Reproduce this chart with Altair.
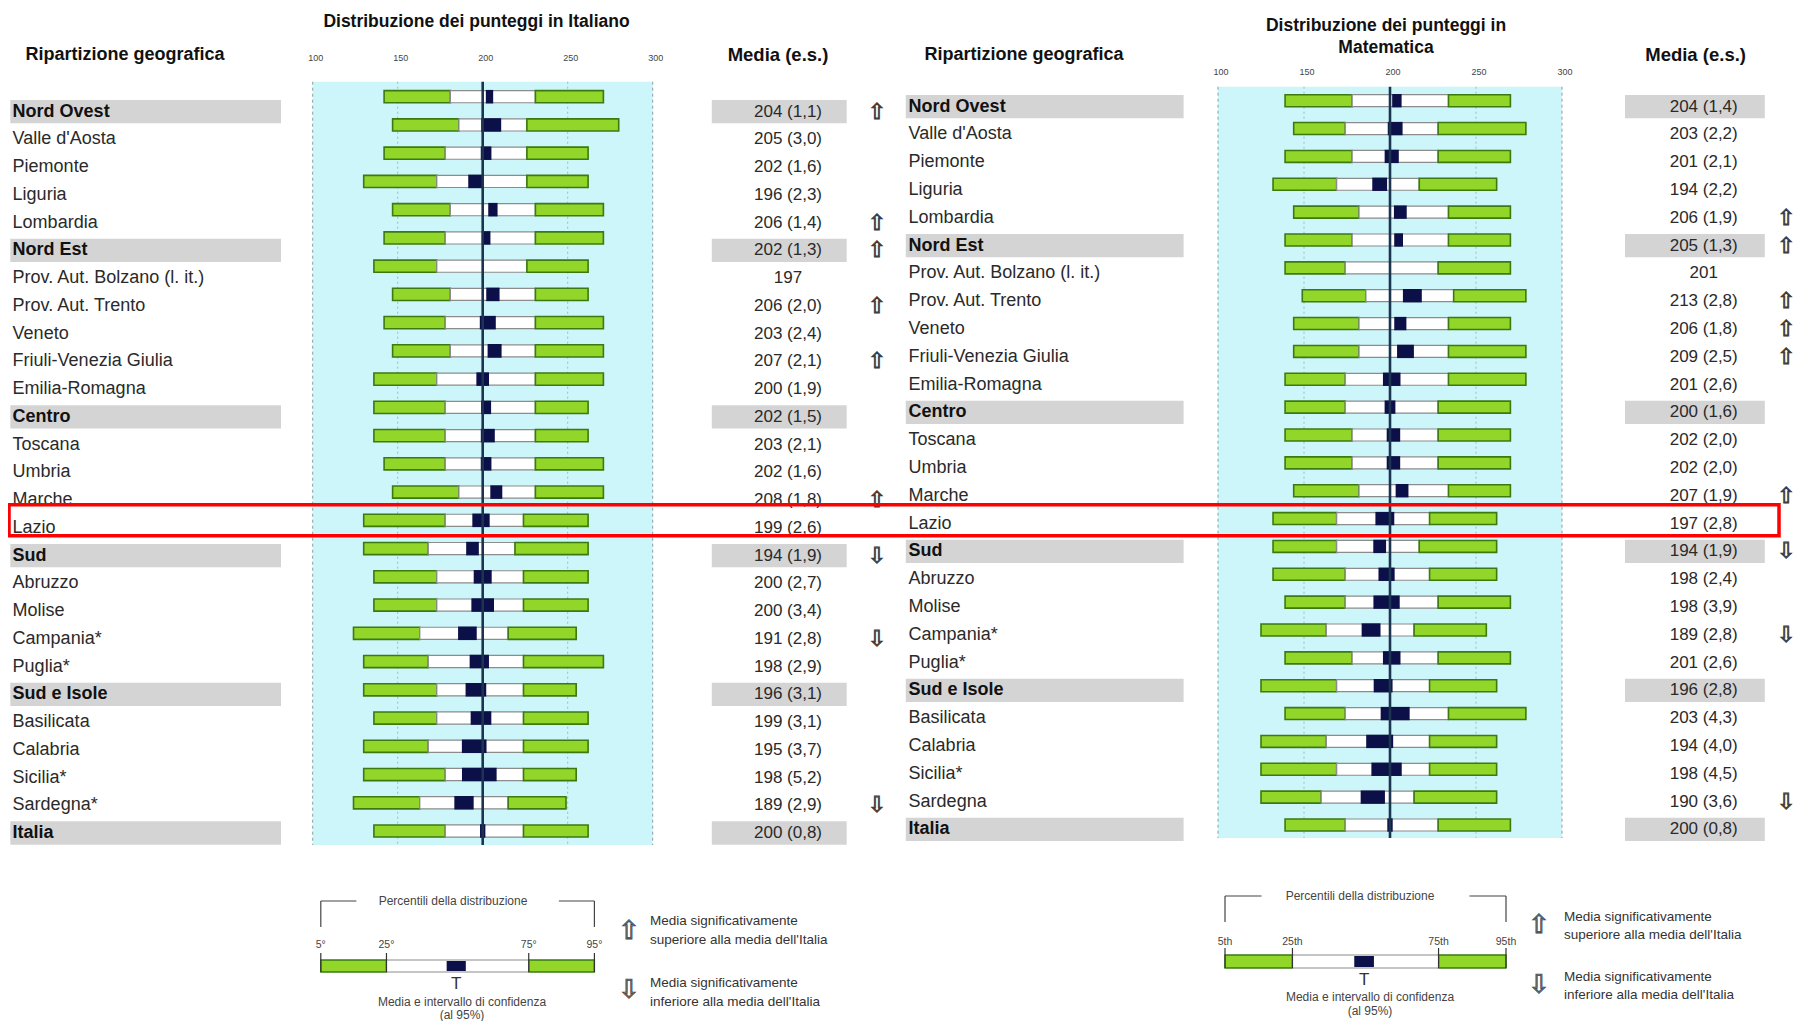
import altair as alt
import pandas as pd

# ---------------- data ----------------
REGIONS_IT = ["Nord Ovest", "Valle d'Aosta", "Piemonte", "Liguria", "Lombardia", "Nord Est",
              "Prov. Aut. Bolzano (l. it.)", "Prov. Aut. Trento", "Veneto", "Friuli-Venezia Giulia",
              "Emilia-Romagna", "Centro", "Toscana", "Umbria", "Marche", "Lazio", "Sud", "Abruzzo",
              "Molise", "Campania*", "Puglia*", "Sud e Isole", "Basilicata", "Calabria", "Sicilia*",
              "Sardegna*", "Italia"]
REGIONS_MA = ["Nord Ovest", "Valle d'Aosta", "Piemonte", "Liguria", "Lombardia", "Nord Est",
              "Prov. Aut. Bolzano (l. it.)", "Prov. Aut. Trento", "Veneto", "Friuli-Venezia Giulia",
              "Emilia-Romagna", "Centro", "Toscana", "Umbria", "Marche", "Lazio", "Sud", "Abruzzo",
              "Molise", "Campania*", "Puglia*", "Sud e Isole", "Basilicata", "Calabria", "Sicilia*",
              "Sardegna", "Italia"]
AGGREGATE = [1, 0, 0, 0, 0, 1, 0, 0, 0, 0, 0, 1, 0, 0, 0, 0, 1, 0, 0, 0, 0, 1, 0, 0, 0, 0, 1]

IT_P5 = [142, 147, 142, 130, 147, 142, 136, 147, 142, 147, 136, 136, 136, 142, 147, 130, 130, 136, 136, 124, 130, 130, 136, 130, 130, 124, 136]
IT_P25 = [181, 186, 178, 173, 181, 178, 173, 181, 178, 181, 173, 178, 178, 178, 186, 178, 168, 173, 173, 163, 168, 173, 173, 168, 178, 163, 178]
IT_P75 = [231, 226, 226, 226, 231, 231, 226, 231, 231, 231, 231, 231, 231, 231, 231, 224, 219, 224, 224, 215, 224, 224, 224, 224, 224, 215, 224]
IT_P95 = [271, 280, 262, 262, 271, 271, 262, 262, 271, 271, 271, 262, 262, 271, 271, 262, 262, 262, 262, 255, 271, 255, 262, 262, 255, 249, 262]
IT_MEAN = [204, 205, 202, 196, 206, 202, 197, 206, 203, 207, 200, 202, 203, 202, 208, 199, 194, 200, 200, 191, 198, 196, 199, 195, 198, 189, 200]
IT_SE = [1.1, 3.0, 1.6, 2.3, 1.4, 1.3, None, 2.0, 2.4, 2.1, 1.9, 1.5, 2.1, 1.6, 1.8, 2.6, 1.9, 2.7, 3.4, 2.8, 2.9, 3.1, 3.1, 3.7, 5.2, 2.9, 0.8]
IT_SIG = ["up", "", "", "", "up", "up", "", "up", "", "up", "", "", "", "", "up", "", "down", "", "", "down", "", "", "", "", "", "down", ""]

MA_P5 = [139, 144, 139, 132, 144, 139, 139, 149, 144, 144, 139, 139, 139, 139, 144, 132, 132, 132, 139, 125, 139, 125, 139, 125, 125, 125, 139]
MA_P25 = [178, 174, 178, 169, 182, 178, 174, 186, 182, 182, 174, 174, 178, 178, 182, 169, 169, 174, 174, 163, 178, 169, 174, 163, 169, 160, 174]
MA_P75 = [234, 228, 228, 217, 234, 234, 228, 237, 234, 234, 234, 228, 228, 228, 234, 223, 217, 223, 228, 214, 228, 223, 234, 223, 223, 214, 228]
MA_P95 = [270, 279, 270, 262, 270, 270, 270, 279, 270, 279, 279, 270, 270, 270, 270, 262, 262, 262, 270, 256, 270, 262, 279, 262, 262, 262, 270]
MA_MEAN = [204, 203, 201, 194, 206, 205, 201, 213, 206, 209, 201, 200, 202, 202, 207, 197, 194, 198, 198, 189, 201, 196, 203, 194, 198, 190, 200]
MA_SE = [1.4, 2.2, 2.1, 2.2, 1.9, 1.3, None, 2.8, 1.8, 2.5, 2.6, 1.6, 2.0, 2.0, 1.9, 2.8, 1.9, 2.4, 3.9, 2.8, 2.6, 2.8, 4.3, 4.0, 4.5, 3.6, 0.8]
MA_SIG = ["", "", "", "", "up", "up", "", "up", "up", "up", "", "", "", "", "up", "", "down", "", "", "down", "", "", "", "", "", "down", ""]

AXIS_TICKS = [100, 150, 200, 250, 300]
HIGHLIGHT = "Lazio"

LEG_POS = [0, 24, 76, 100]
LEG_CI = [46, 53]
LEG_MEAN = 49.5
LEG_PCT_IT = ["5°", "25°", "75°", "95°"]
LEG_PCT_MA = ["5th", "25th", "75th", "95th"]

# ---------------- style ----------------
FONT = "Liberation Sans"
CYAN = "#cdf6fb"
GREEN = "#92d62a"
DKGREEN = "#3a7a10"
NAVY = "#0c1048"
MEANLINE = "#1b3550"
GREYBAND = "#d4d4d4"
TXT = "#2a2a2a"

N = len(REGIONS_IT)


def make_df(labels, p5, p25, p75, p95, mean, se, sig):
    media = [str(m) if s is None else f"{m} ({s:.1f})".replace(".", ",") for m, s in zip(mean, se)]
    arrows = {"up": "⇧", "down": "⇩", "": ""}
    return pd.DataFrame({
        "row": list(range(len(labels))), "label": labels, "agg": AGGREGATE,
        "p5": p5, "p25": p25, "p75": p75, "p95": p95, "mean": mean, "se": se,
        "media": media, "arrow": [arrows[s] for s in sig],
    })


def txt(data, x, y, text, size, **kw):
    return alt.Chart(data).mark_text(font=FONT, fontSize=size, **kw).encode(
        x=alt.value(x), y=alt.value(y), text=alt.value(text))


def panel(df, c):
    xsc = alt.Scale(domain=[AXIS_TICKS[0], AXIS_TICKS[-1]], range=c["xr"], nice=False, zero=False)

    def X(f):
        return alt.X(f, type="quantitative", scale=xsc, axis=None)

    def Y(f, rng):
        return alt.Y(f, type="quantitative",
                     scale=alt.Scale(domain=[0, N - 1], range=rng, nice=False, zero=False), axis=None)

    ticks = pd.DataFrame({"t": AXIS_TICKS})
    span = pd.DataFrame({"lo": [AXIS_TICKS[0]], "hi": [AXIS_TICKS[-1]]})
    L = []
    # background
    L.append(alt.Chart(span).mark_rect(fill=CYAN).encode(
        x=X("lo"), x2="hi", y=alt.value(c["top"]), y2=alt.value(c["bot"])))
    # faint inner grid
    L.append(alt.Chart(ticks).transform_filter("datum.t % 100 != 0").mark_rule(
        color="#9fb8bd", strokeWidth=1, strokeDash=[2, 3]).encode(
        x=X("t"), y=alt.value(c["top"]), y2=alt.value(c["bot"])))
    # dashed edges
    L.append(alt.Chart(ticks).transform_filter(
        f"datum.t == {AXIS_TICKS[0]} || datum.t == {AXIS_TICKS[-1]}").mark_rule(
        color="#8a9ea2", strokeWidth=1, strokeDash=[3, 3]).encode(
        x=X("t"), y=alt.value(c["top"]), y2=alt.value(c["bot"])))
    # tick labels
    L.append(alt.Chart(ticks).mark_text(font=FONT, fontSize=9, color="#444", dx=3).encode(
        x=X("t"), y=alt.value(c["tick_y"]), text=alt.Text("t:Q")))

    band = alt.Chart(df).transform_filter("datum.agg == 1").transform_calculate(
        blo="datum.row - 0.42", bhi="datum.row + 0.42")
    L.append(band.mark_rect(fill=GREYBAND).encode(
        x=alt.value(c["band"][0]), x2=alt.value(c["band"][1]), y=Y("blo", c["ylab"]), y2="bhi"))
    L.append(band.mark_rect(fill=GREYBAND).encode(
        x=alt.value(c["mband"][0]), x2=alt.value(c["mband"][1]), y=Y("blo", c["ylab"]), y2="bhi"))

    # region labels
    L.append(alt.Chart(df).transform_filter("datum.agg == 0").mark_text(
        font=FONT, fontSize=18, align="left", color=TXT).encode(
        x=alt.value(c["lab_x"]), y=Y("row", c["ylab"]), text="label:N"))
    L.append(alt.Chart(df).transform_filter("datum.agg == 1").mark_text(
        font=FONT, fontSize=18, fontWeight="bold", align="left", color="#111").encode(
        x=alt.value(c["lab_x"]), y=Y("row", c["ylab"]), text="label:N"))
    # media (e.s.)
    L.append(alt.Chart(df).mark_text(font=FONT, fontSize=17, color=TXT).encode(
        x=alt.value(c["med_x"]), y=Y("row", c["ylab"]), text="media:N"))
    # arrows
    L.append(alt.Chart(df).mark_text(font="DejaVu Sans", fontSize=22, fill="#777",
                                     stroke="#333", strokeWidth=0.8).encode(
        x=alt.value(c["arr_x"]), y=Y("row", c["ylab"]), text="arrow:N"))

    # distribution bars
    base = alt.Chart(df).transform_calculate(ylo="datum.row - 0.215", yhi="datum.row + 0.215")
    L.append(base.mark_rect(fill=GREEN, stroke=DKGREEN, strokeWidth=1.6).encode(
        x=X("p5"), x2="p25", y=Y("ylo", c["ybar"]), y2="yhi"))
    L.append(base.mark_rect(fill="white", stroke="#8c8c8c", strokeWidth=1.2).encode(
        x=X("p25"), x2="p75", y=Y("ylo", c["ybar"]), y2="yhi"))
    L.append(base.mark_rect(fill=GREEN, stroke=DKGREEN, strokeWidth=1.6).encode(
        x=X("p75"), x2="p95", y=Y("ylo", c["ybar"]), y2="yhi"))
    L.append(base.transform_filter("isValid(datum.se)").transform_calculate(
        clo="datum.mean - 1.96 * datum.se", chi="datum.mean + 1.96 * datum.se",
        nlo="datum.row - 0.24", nhi="datum.row + 0.24").mark_rect(fill=NAVY).encode(
        x=X("clo"), x2="chi", y=Y("nlo", c["ybar"]), y2="nhi"))
    # Italy mean line
    L.append(alt.Chart(df).transform_filter("datum.label == 'Italia'").mark_rule(
        color=MEANLINE, strokeWidth=2.6).encode(
        x=X("mean"), y=alt.value(c["top"]), y2=alt.value(c["bot"])))

    # headers
    L.append(txt(span, c["head_x"], c["head_y"], "Ripartizione geografica", 18, fontWeight="bold", color="#111"))
    L.append(txt(span, c["mhead_x"], c["head_y"], "Media (e.s.)", 18.5, fontWeight="bold", color="#111"))
    for line, ty in zip(c["title"], c["title_y"]):
        L.append(txt(span, c["title_x"], ty, line, 17.5, fontWeight="bold", color="#111"))

    # ----- legend -----
    lsc = alt.Scale(domain=[LEG_POS[0], LEG_POS[-1]], range=c["leg_xr"], nice=False, zero=False)

    def LX(f):
        return alt.X(f, type="quantitative", scale=lsc, axis=None)

    segs = pd.DataFrame({"lo": LEG_POS[:-1], "hi": LEG_POS[1:], "kind": ["g", "w", "g"]})
    by0, by1 = c["leg_bar_y"]
    L.append(alt.Chart(segs).transform_filter("datum.kind == 'g'").mark_rect(
        fill=GREEN, stroke=DKGREEN, strokeWidth=1.4).encode(
        x=LX("lo"), x2="hi", y=alt.value(by0), y2=alt.value(by1)))
    L.append(alt.Chart(segs).transform_filter("datum.kind == 'w'").mark_rect(
        fill="white", stroke="#8c8c8c", strokeWidth=1.2).encode(
        x=LX("lo"), x2="hi", y=alt.value(by0), y2=alt.value(by1)))
    ci = pd.DataFrame({"lo": [LEG_CI[0]], "hi": [LEG_CI[1]], "m": [LEG_MEAN]})
    L.append(alt.Chart(ci).mark_rect(fill=NAVY).encode(
        x=LX("lo"), x2="hi", y=alt.value(by0 + 1), y2=alt.value(by1 - 1)))
    pct = pd.DataFrame({"p": LEG_POS, "lab": c["pct"]})
    L.append(alt.Chart(pct).mark_rule(color="#333", strokeWidth=1.2).encode(
        x=LX("p"), y=alt.value(by0 - 7), y2=alt.value(by1)))
    L.append(alt.Chart(pct).mark_text(font=FONT, fontSize=10.5, color="#444").encode(
        x=LX("p"), y=alt.value(c["leg_lab_y"]), text="lab:N"))
    # bracket
    bt, bb = c["leg_br_y"]
    ends = pd.DataFrame({"p": [LEG_POS[0], LEG_POS[-1]]})
    L.append(alt.Chart(ends).mark_rule(color="#444", strokeWidth=1.2).encode(
        x=LX("p"), y=alt.value(bt), y2=alt.value(bb)))
    arms = pd.DataFrame({"a": [LEG_POS[0], 87], "b": [13, LEG_POS[-1]]})
    L.append(alt.Chart(arms).mark_rule(color="#444", strokeWidth=1.2).encode(
        x=LX("a"), x2="b", y=alt.value(bt)))
    L.append(txt(ci, c["br_text_x"], bt, "Percentili della distribuzione", 12, color="#444"))
    L.append(alt.Chart(ci).mark_text(font=FONT, fontSize=17, color="#333", baseline="top").encode(
        x=LX("m"), y=alt.value(by1 + 4), text=alt.value("T")))
    L.append(txt(ci, c["ci_text_x"], c["ci_text_y"][0], "Media e intervallo di confidenza", 12, color="#444"))
    L.append(txt(ci, c["ci_text_x"], c["ci_text_y"][1], "(al 95%)", 12, color="#444"))
    L.append(alt.Chart(ci).mark_text(font="DejaVu Sans", fontSize=26, fill="#999", stroke="#444",
                                     strokeWidth=0.8).encode(
        x=alt.value(c["la_x"]), y=alt.value(c["la_up_y"]), text=alt.value("⇧")))
    L.append(alt.Chart(ci).mark_text(font="DejaVu Sans", fontSize=26, fill="#999", stroke="#444",
                                     strokeWidth=0.8).encode(
        x=alt.value(c["la_x"]), y=alt.value(c["la_dn_y"]), text=alt.value("⇩")))
    up_lines = ["Media significativamente", "superiore alla media dell'Italia"]
    dn_lines = ["Media significativamente", "inferiore alla media dell'Italia"]
    for line, ty in zip(up_lines, c["la_up_text_y"]):
        L.append(txt(ci, c["la_tx"], ty, line, 13.5, color="#333", align="left"))
    for line, ty in zip(dn_lines, c["la_dn_text_y"]):
        L.append(txt(ci, c["la_tx"], ty, line, 13.5, color="#333", align="left"))
    return L


CFG_IT = dict(xr=[304.7, 644.7], ybar=[88.7, 823], ylab=[103.7, 825], top=73.7, bot=837,
              tick_y=50.3, band=(2.3, 273), mband=(703.8, 838.7), lab_x=4.6, med_x=780, arr_x=868.6,
              head_x=117, head_y=47, mhead_x=770, title_x=468.5, title_y=[13.7],
              title=["Distribuzione dei punteggi in Italiano"],
              leg_xr=[312.8, 586.4], leg_bar_y=(952, 964), leg_lab_y=937, leg_br_y=(893, 919),
              br_text_x=445, ci_text_x=454, ci_text_y=[993.5, 1006.5], pct=LEG_PCT_IT,
              la_x=621, la_up_y=923, la_dn_y=982, la_tx=642,
              la_up_text_y=[913, 932], la_dn_text_y=[975, 993.5])
CFG_MA = dict(xr=[1210, 1554], ybar=[92.7, 817], ylab=[98.7, 821.3], top=78.7, bot=830,
              tick_y=63.7, band=(897.8, 1175.6), mband=(1617, 1756.8), lab_x=900.6, med_x=1695.7,
              arr_x=1778, head_x=1016, head_y=47, mhead_x=1687.6, title_x=1378, title_y=[18, 40],
              title=["Distribuzione dei punteggi in", "Matematica"],
              leg_xr=[1217, 1498], leg_bar_y=(947, 960), leg_lab_y=933.7, leg_br_y=(888, 914),
              br_text_x=1352, ci_text_x=1362, ci_text_y=[988.5, 1003], pct=LEG_PCT_MA,
              la_x=1531, la_up_y=917, la_dn_y=977, la_tx=1556,
              la_up_text_y=[908.7, 927], la_dn_text_y=[968.7, 987])

df_it = make_df(REGIONS_IT, IT_P5, IT_P25, IT_P75, IT_P95, IT_MEAN, IT_SE, IT_SIG)
df_ma = make_df(REGIONS_MA, MA_P5, MA_P25, MA_P75, MA_P95, MA_MEAN, MA_SE, MA_SIG)

layers = panel(df_it, CFG_IT) + panel(df_ma, CFG_MA)

# red highlight box around one row (spans both panels)
hl = alt.Chart(df_it).transform_filter(f"datum.label == '{HIGHLIGHT}'").transform_calculate(
    ylo="datum.row - 0.55", yhi="datum.row + 0.55").mark_rect(
    filled=False, stroke="#ff0000", strokeWidth=3.5).encode(
    x=alt.value(1), x2=alt.value(1771),
    y=alt.Y("ylo", type="quantitative",
            scale=alt.Scale(domain=[0, N - 1], range=CFG_IT["ybar"], nice=False, zero=False), axis=None),
    y2="yhi")
layers.append(hl)

chart = alt.layer(*layers).resolve_scale(x="independent", y="independent").properties(
    width=1788, height=1013, padding=0, autosize="none", background="white"
).configure_view(stroke=None)

chart.save("out.html", embed_options={"renderer": "svg", "actions": False})
